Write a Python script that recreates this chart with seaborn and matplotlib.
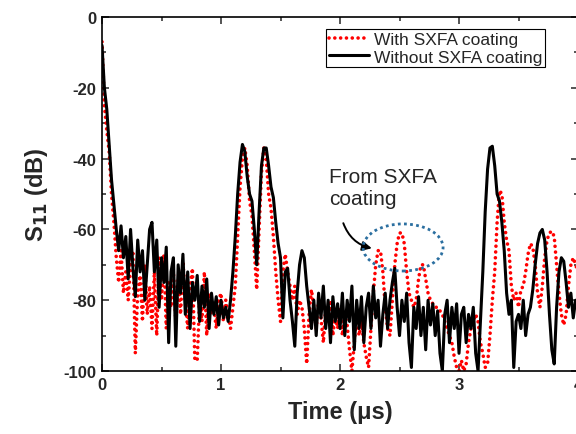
import numpy as np
import pandas as pd
import matplotlib
matplotlib.use("Agg")
import matplotlib.pyplot as plt
from matplotlib.patches import Ellipse
from matplotlib.ticker import MultipleLocator
import seaborn as sns

# time grid of the measurement (us), 0.02 us step
time_us = np.round(np.arange(0, 4.0001, 0.02), 2)

# S11 with SXFA coating (dB)
s11_with = [
    -7, -25, -32, -38, -50, -58, -68, -75, -66, -78,
    -72, -80, -70, -66, -95, -78, -73, -86, -70, -84,
    -76, -88, -72, -90, -68, -80, -67, -88, -75, -82,
    -72, -86, -74, -84, -69, -80, -88, -76, -71, -97,
    -97, -80, -86, -72, -90, -78, -84, -82, -88, -80,
    -78, -86, -80, -84, -88, -82, -76, -62, -48, -40,
    -37, -42, -52, -56, -66, -77, -60, -44, -37, -40,
    -50, -54, -62, -72, -80, -86, -72, -67, -72, -76,
    -80, -76, -84, -80, -82, -88, -98, -84, -77, -82,
    -88, -80, -85, -92, -82, -86, -80, -90, -84, -88,
    -82, -90, -84, -87, -94, -100, -92, -84, -90, -86,
    -92, -96, -99, -88, -78, -70, -66, -66, -72, -82,
    -88, -90, -80, -70, -64, -61, -61, -64, -72, -78,
    -80, -82, -80, -74, -70, -70, -74, -78, -80, -81,
    -82, -82, -83, -84, -86, -88, -90, -92, -96, -99,
    -100, -97, -100, -98, -92, -88, -86, -84, -86, -92,
    -95, -99, -98, -90, -80, -72, -58, -49, -50, -58,
    -63, -66, -76, -80, -78, -82, -77, -76, -72, -67,
    -64, -65, -70, -78, -82, -76, -68, -63, -61, -60.5,
    -62, -70, -78, -84, -87, -84, -76, -70, -68, -70,
    -72,
]

# S11 without SXFA coating (dB)
s11_without = [
    -8, -20, -26, -36, -46, -53, -60, -66, -59, -68,
    -62, -74, -60, -71, -79, -63, -72, -66, -80, -70,
    -60, -58, -72, -63, -82, -68, -75, -65, -92, -72,
    -68, -93, -70, -78, -67, -84, -72, -88, -75, -80,
    -73, -86, -76, -82, -74, -88, -78, -84, -79, -87,
    -80, -85, -82, -86, -80, -72, -62, -50, -41, -36,
    -38, -45, -50, -52, -60, -70, -55, -42, -37, -37,
    -42, -48, -51, -58, -64, -68, -85, -72, -71, -80,
    -86, -93, -78, -70, -66, -68, -76, -82, -88, -80,
    -90, -78, -85, -76, -88, -80, -92, -79, -86, -81,
    -88, -78, -90, -80, -86, -76, -94, -80, -88, -79,
    -92, -82, -78, -88, -76, -85, -80, -93, -84, -78,
    -88, -80, -75, -71, -82, -90, -80, -86, -78, -92,
    -99, -82, -88, -79, -90, -82, -94, -80, -87, -81,
    -90, -83, -95, -100, -84, -80, -92, -82, -88, -81,
    -95, -84, -82, -92, -84, -88, -82, -95, -100, -86,
    -72, -55, -43, -37, -36.5, -42, -50, -52, -58, -66,
    -78, -84, -80, -99, -86, -84, -88, -80, -90, -84,
    -82, -77, -70, -64, -61, -60, -63, -72, -84, -94,
    -98, -82, -72, -68, -69, -75, -82, -78, -85, -80,
    -83,
]

labels = ["With SXFA coating", "Without SXFA coating"]

df_with = pd.DataFrame({"time": time_us, "s11": s11_with})
df_without = pd.DataFrame({"time": time_us, "s11": s11_without})

sns.set_style("ticks")
plt.rcParams["font.family"] = ["Liberation Sans", "DejaVu Sans"]
plt.rcParams["axes.unicode_minus"] = False

dots = (0, (0.01, 1.6))

fig = plt.figure(figsize=(5.76, 4.35), dpi=100)
ax = fig.add_axes([0.1771, 0.1448, 0.8264, 0.8138])

sns.lineplot(data=df_with, x="time", y="s11", ax=ax, color="#ff0000",
             linewidth=2.6, label=labels[0], estimator=None)
ax.lines[-1].set_linestyle(dots)
ax.lines[-1].set_dash_capstyle("round")
sns.lineplot(data=df_without, x="time", y="s11", ax=ax, color="black",
             linewidth=2.2, label=labels[1], estimator=None)

ax.set_xlim(0, 4)
ax.set_ylim(-100, 0)
ax.xaxis.set_major_locator(MultipleLocator(1))
ax.xaxis.set_minor_locator(MultipleLocator(0.5))
ax.yaxis.set_major_locator(MultipleLocator(20))
ax.yaxis.set_minor_locator(MultipleLocator(10))
ax.tick_params(which="both", direction="in", top=True, right=True, width=1.1,
               labelsize=12, pad=4)
ax.tick_params(which="major", length=5)
ax.tick_params(which="minor", length=3)
for lab in ax.get_xticklabels() + ax.get_yticklabels():
    lab.set_fontweight("bold")
for sp in ax.spines.values():
    sp.set_linewidth(1.2)
    sp.set_color("black")

ax.set_xlabel("Time (μs)", fontsize=17, fontweight="bold", labelpad=6)
ax.set_ylabel("S$_{\\mathbf{11}}$ (dB)", fontsize=17, fontweight="bold", labelpad=10)

leg = ax.legend(loc="upper right", bbox_to_anchor=(0.931, 0.966), borderaxespad=0,
                fontsize=12.5, frameon=True, fancybox=False, framealpha=1,
                edgecolor="black", handlelength=2.3, handletextpad=0.3,
                borderpad=0.15, labelspacing=0.15)
leg.get_frame().set_linewidth(0.8)
leg.legend_handles[0].set_linestyle(dots)
leg.legend_handles[0].set_dash_capstyle("round")

ax.add_patch(Ellipse((2.53, -65.1), 0.672, 13.3, fill=False, edgecolor="#2b6fa0",
                     linestyle=(0, (1, 1.2)), linewidth=2.0, zorder=5))
ax.text(1.91, -42.5, "From SXFA\ncoating", fontsize=15, ha="left", va="top",
        linespacing=1.15)
ax.annotate("", xy=(2.29, -65.5), xytext=(2.02, -57.5),
            arrowprops=dict(arrowstyle="-|>", connectionstyle="arc3,rad=0.3",
                            color="black", lw=1.4, mutation_scale=14))

fig.savefig("out.png", dpi=100)
